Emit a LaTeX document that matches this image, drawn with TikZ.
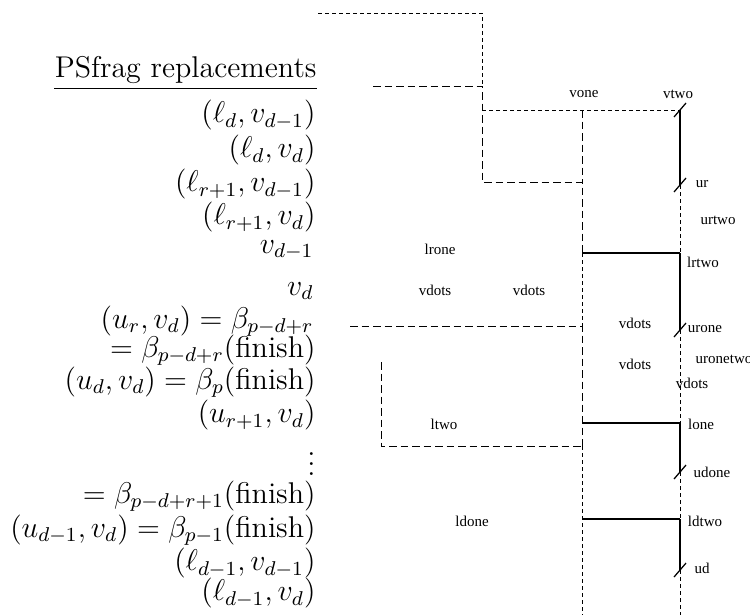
\documentclass[tikz,border=0pt]{standalone}
\usepackage{amsmath}
\usepackage{amssymb}
\usepackage{fontspec}
\usepackage{tikz}
\newfontfamily\labfont{Liberation Serif}
\tikzset{
  lab/.style={inner sep=0pt,font=\labfont\fontsize{6}{7}\selectfont},
  rep/.style={inner sep=0pt,anchor=east,font=\fontsize{12}{13}\selectfont},
  fine/.style={line width=0.4pt,dash pattern=on 1.6pt off 1.2pt},
  long/.style={line width=0.4pt,dash pattern=on 3pt off 1.6pt},
  solid line/.style={line width=0.5pt},
  tick/.style={line width=0.5pt}
}

\begin{document}
\begin{tikzpicture}[x=0.4pt,y=-0.4pt]
            \useasboundingbox (0,0) rectangle (750,615);
            \node[rep] (title) at (317,70) {PSfrag replacements};
            \draw[line width=0.4pt] (title.south west|-0,88) -- (title.south east|-0,88);
            \node[rep] (ldvdm) at (316,115) {$(\ell_d,v_{d-1})$};
            \node[rep] (ldvd) at (316,150) {$(\ell_d,v_d)$};
            \node[rep] (lrvdm) at (316,184) {$(\ell_{r+1},v_{d-1})$};
            \node[rep] (lrvd) at (316,217) {$(\ell_{r+1},v_d)$};
            \node[rep] (vdm) at (314,250) {$v_{d-1}$};
            \node[rep] (vd) at (314,291) {$v_d$};
            \node[rep] (urvd) at (314,321) {$(u_r,v_d)=\beta_{p-d+r}$};
            \node[rep] (bfin) at (316,350) {$=\beta_{p-d+r}(\text{finish})$};
            \node[rep] (udvd) at (316,382) {$(u_d,v_d)=\beta_p(\text{finish})$};
            \node[rep] (urpvd) at (316,415) {$(u_{r+1},v_d)$};
            \node[rep] (dots) at (316,457) {$\vdots$};
            \node[rep] (bpfin) at (316,496) {$=\beta_{p-d+r+1}(\text{finish})$};
            \node[rep] (udmvd) at (316,530) {$(u_{d-1},v_d)=\beta_{p-1}(\text{finish})$};
            \node[rep] (ldmvdm) at (316,563) {$(\ell_{d-1},v_{d-1})$};
            \node[rep] (ldmvd) at (316,593) {$(\ell_{d-1},v_d)$};

            \coordinate (a1) at (318,13);
            \coordinate (a2) at (482,13);
            \coordinate (b1) at (373,86);
            \coordinate (b2) at (482,86);
            \coordinate (c1) at (482,110);
            \coordinate (c2) at (582,110);
            \coordinate (c3) at (680,110);
            \coordinate (d1) at (482,182);
            \coordinate (d2) at (582,182);
            \coordinate (d3) at (680,185);
            \coordinate (e1) at (582,253);
            \coordinate (e2) at (680,253);
            \coordinate (f0) at (350,326);
            \coordinate (f1) at (582,326);
            \coordinate (f2) at (680,330);
            \coordinate (g1) at (381,362);
            \coordinate (h1) at (582,423);
            \coordinate (h2) at (680,423);
            \coordinate (k0) at (381,446);
            \coordinate (k1) at (582,446);
            \coordinate (m2) at (680,472);
            \coordinate (n1) at (582,519);
            \coordinate (n2) at (680,519);
            \coordinate (p2) at (680,570);
            \coordinate (q1) at (582,615);
            \coordinate (q2) at (680,615);

            \draw[fine] (a1) -- (a2) -- (b2);
            \draw[long] (b1) -- (b2) -- (d1) -- (d2) -- (e1);
            \draw[fine] (c1) -- (c3);
            \draw[long] (c2) -- (d2);
            \draw[fine] (e1) -- (f1);
            \draw[long] (f0) -- (f1) -- (k1);
            \draw[long] (g1) -- (k0) -- (k1);
            \draw[fine] (k1) -- (q1);
            \draw[solid line] (c3) -- (d3);
            \draw[fine] (d3) -- (e2);
            \draw[solid line] (e2) -- (f2);
            \draw[fine] (f2) -- (h2);
            \draw[solid line] (h2) -- (m2);
            \draw[fine] (m2) -- (n2);
            \draw[solid line] (n2) -- (p2);
            \draw[fine] (p2) -- (q2);
            \draw[solid line] (e1) -- (e2);
            \draw[solid line] (h1) -- (h2);
            \draw[solid line] (n1) -- (n2);
            \foreach \t in {c3,d3,f2,m2,p2}
              \draw[tick] ([shift={(-6,7)}]\t) -- ([shift={(6,-7)}]\t);

            \node[lab] (vone) at (584,94) {vone};
            \node[lab] (vtwo) at (678,94) {vtwo};
            \node[lab] (ur) at (702,184) {ur};
            \node[lab] (urtwo) at (718,220) {urtwo};
            \node[lab] (lrone) at (440,249) {lrone};
            \node[lab] (lrtwo) at (703,262) {lrtwo};
            \node[lab] (vdotsa) at (435,290) {vdots};
            \node[lab] (vdotsb) at (529,290) {vdots};
            \node[lab] (vdotsc) at (635,323) {vdots};
            \node[lab] (urone) at (705,329) {urone};
            \node[lab] (vdotsd) at (635,364) {vdots};
            \node[lab] (uronetwo) at (724,359) {uronetwo};
            \node[lab] (vdotse) at (692,383) {vdots};
            \node[lab] (ltwo) at (444,424) {ltwo};
            \node[lab] (lone) at (701,424) {lone};
            \node[lab] (udone) at (712,472) {udone};
            \node[lab] (ldone) at (472,521) {ldone};
            \node[lab] (ldtwo) at (705,521) {ldtwo};
            \node[lab] (ud) at (702,568) {ud};
          \end{tikzpicture}
\end{document}
